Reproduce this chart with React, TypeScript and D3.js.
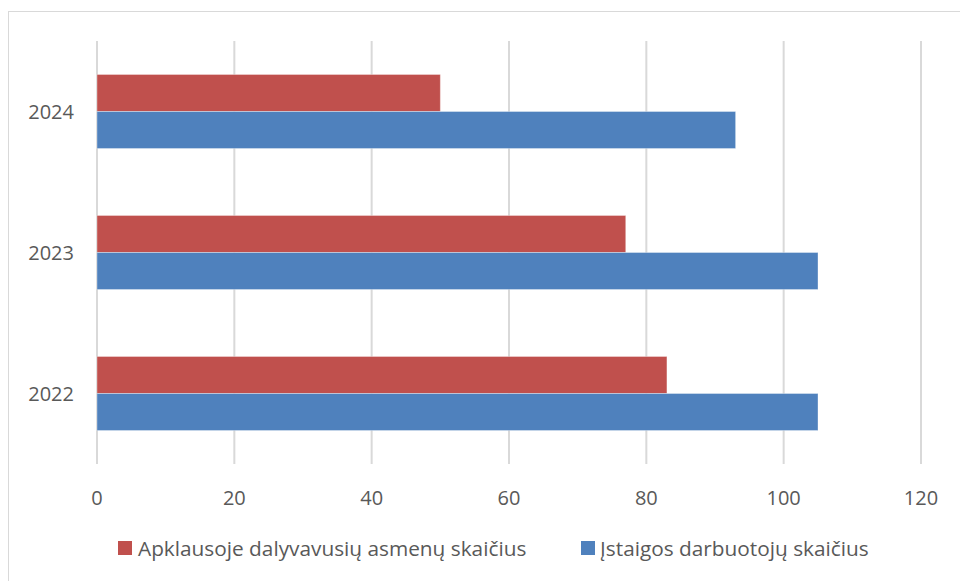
import React from "react";
import * as d3 from "d3";

const years = ["2024", "2023", "2022"];
const seriesNames = ["Apklausoje dalyvavusių asmenų skaičius", "Įstaigos darbuotojų skaičius"];
const respondents = [50, 77, 83];
const employees = [93, 105, 105];
const xTicks = [0, 20, 40, 60, 80, 100, 120];
const colors = ["#C0504D", "#4F81BD"];

const W = 960;
const H = 581;
const left = 97;
const right = 921;
const top = 41;
const bottom = 464;
const FONT = "'Open Sans', sans-serif";
const TEXT = "#595959";

export default function App() {
  const x = d3.scaleLinear().domain([0, 120]).range([left, right]);
  const y = d3.scaleBand<string>().domain(years).range([top, bottom]).paddingInner(0.475).paddingOuter(0.2375);
  const sub = d3.scaleBand<number>().domain([0, 1]).range([0, y.bandwidth()]);
  const values = [respondents, employees];

  return (
    <div style={{ position: "absolute", left: 0, top: 0 }}>
      <svg width={W} height={H} style={{ display: "block" }}>
        <rect x={0} y={0} width={W} height={H} fill="#fff" />
        <rect x={8.5} y={11.5} width={W + 10} height={H + 10} fill="#fff" stroke="#D9D9D9" strokeWidth={1} />
        {xTicks.map((t) => (
          <line key={t} x1={x(t)} x2={x(t)} y1={top} y2={bottom} stroke="#D9D9D9" strokeWidth={2} />
        ))}
        {years.map((yr, i) =>
          values.map((vals, s) => (
            <rect
              key={yr + s}
              x={x(0)}
              y={(y(yr) as number) + (sub(s) as number)}
              width={x(vals[i]) - x(0)}
              height={sub.bandwidth()}
              fill={colors[s]}
              stroke="rgba(255,255,255,0.35)"
              strokeWidth={1}
            />
          ))
        )}
        {years.map((yr) => (
          <text
            key={yr}
            x={74}
            y={(y(yr) as number) + y.bandwidth() / 2}
            textAnchor="end"
            dominantBaseline="central"
            fontFamily={FONT}
            fontSize={20}
            fill={TEXT}
          >
            {yr}
          </text>
        ))}
        {xTicks.map((t) => (
          <text
            key={t}
            x={x(t)}
            y={497}
            textAnchor="middle"
            dominantBaseline="central"
            fontFamily={FONT}
            fontSize={20}
            fill={TEXT}
          >
            {t}
          </text>
        ))}
        <g>
          <rect x={118} y={541} width={14} height={14} fill={colors[0]} />
          <text x={138} y={548} dominantBaseline="central" fontFamily={FONT} fontSize={20.8} fill={TEXT}>
            {seriesNames[0]}
          </text>
          <rect x={581} y={541} width={14} height={14} fill={colors[1]} />
          <text x={600} y={548} dominantBaseline="central" fontFamily={FONT} fontSize={20.8} fill={TEXT}>
            {seriesNames[1]}
          </text>
        </g>
      </svg>
    </div>
  );
}
